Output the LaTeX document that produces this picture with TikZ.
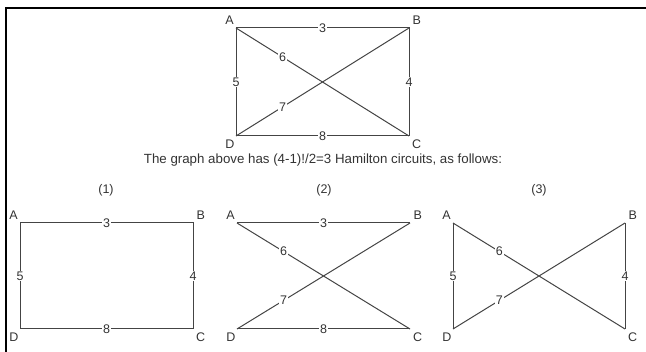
\documentclass[tikz,border=0pt]{standalone}
\usepackage{fontspec}
\setmainfont{Liberation Sans}
\usepackage{tikz}
\usetikzlibrary{positioning,calc}
\definecolor{EdgeGrey}{HTML}{444444}
\definecolor{TextGrey}{HTML}{333333}
\newcommand{\corners}[5]{%
  \coordinate (#1A) at (#2,#4);
  \coordinate (#1B) at (#3,#4);
  \coordinate (#1C) at (#3,#5);
  \coordinate (#1D) at (#2,#5);
  \node[vlabel, above left=3.5pt and 2pt of #1A] (#1lA) {A};
  \node[vlabel, above right=3.5pt and 3.5pt of #1B] (#1lB) {B};
  \node[vlabel, below right=3.5pt and 3pt of #1C] (#1lC) {C};
  \node[vlabel, below left=3.5pt and 1.5pt of #1D] (#1lD) {D};}

\begin{document}
\begin{tikzpicture}[x=1pt, y=-1pt, font=\fontsize{12.5}{15}\selectfont, text=TextGrey,
    vlabel/.style={inner sep=0pt},
    wt/.style={fill=white, inner sep=0.8pt},
    edge/.style={draw=EdgeGrey, line width=1pt}]
    \useasboundingbox (0,0) rectangle (646,352);
    \draw[line width=1.6pt, black] (6,352) -- (6,8) -- (646,8);
    % complete graph on A, B, C, D
    \corners{}{236}{409}{28}{136}
    \draw[edge] (A) -- node[wt] (w3) {3} (B) -- node[wt] (w4) {4} (C)
      -- node[wt] (w8) {8} (D) -- node[wt] (w5) {5} (A);
    \draw[edge] (A) -- node[wt, pos=0.27] (w6) {6} (C);
    \draw[edge] (D) -- node[wt, pos=0.27] (w7) {7} (B);
    \node[font=\fontsize{13.3}{15}\selectfont] (caption) at (323,160)
      {The graph above has (4-1)!/2=3 Hamilton circuits, as follows:};
    % circuit (1)
    \corners{p}{20}{193}{223}{329}
    \node (title1) at (106,190) {(1)};
    \draw[edge] (pA) -- node[wt] (p3) {3} (pB) -- node[wt] (p4) {4} (pC)
      -- node[wt] (p8) {8} (pD) -- node[wt] (p5) {5} (pA);
    % circuit (2)
    \corners{q}{237}{410}{223}{329}
    \node (title2) at (324,190) {(2)};
    \draw[edge] (qA) -- node[wt] (q3) {3} (qB);
    \draw[edge] (qD) -- node[wt, pos=0.27] (q7) {7} (qB);
    \draw[edge] (qD) -- node[wt] (q8) {8} (qC);
    \draw[edge] (qA) -- node[wt, pos=0.27] (q6) {6} (qC);
    % circuit (3)
    \corners{r}{453}{625}{223}{329}
    \node (title3) at (539,190) {(3)};
    \draw[edge] (rA) -- node[wt, pos=0.27] (r6) {6} (rC);
    \draw[edge] (rB) -- node[wt] (r4) {4} (rC);
    \draw[edge] (rD) -- node[wt, pos=0.27] (r7) {7} (rB);
    \draw[edge] (rA) -- node[wt] (r5) {5} (rD);
  \end{tikzpicture}
\end{document}
